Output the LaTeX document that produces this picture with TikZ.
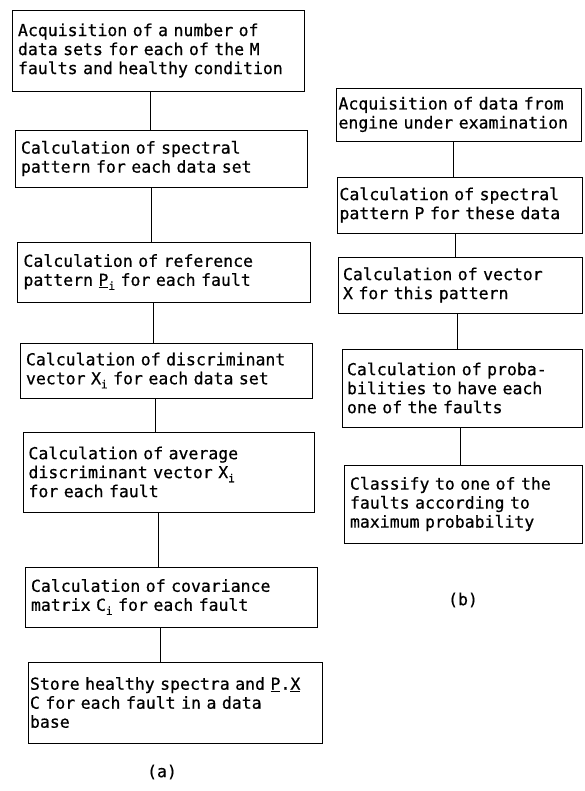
\documentclass[tikz,border=0pt]{standalone}
\usepackage{fontspec}
\setmainfont{DejaVu Sans Mono}[FakeBold=0.6]
\newcommand{\lowi}{\raisebox{-0.45ex}{\fontsize{11}{11}\selectfont i}}
\begin{document}
\begin{tikzpicture}[x=1pt,y=-1pt,
  stepbox/.style={draw,line width=0.9pt,rectangle,inner sep=0pt,
    font=\fontsize{16.5}{19}\selectfont,align=left},
  link/.style={line width=0.9pt},
  captext/.style={font=\fontsize{16.5}{19}\selectfont}]
\useasboundingbox (0,0) rectangle (584,791);
% left column
\node[stepbox,minimum width=292pt,minimum height=81pt,text width=280pt] (a1) at (158,50.5)
  {Acquisition of a number of\\data sets for each of the M\\faults and healthy condition};
\node[stepbox,minimum width=292pt,minimum height=57pt,text width=280pt] (a2) at (161,158.5)
  {Calculation of spectral\\pattern for each data set};
\node[stepbox,minimum width=293pt,minimum height=60pt,text width=280pt] (a3) at (163.5,272)
  {Calculation of reference\\pattern \underline{P}\lowi{} for each fault};
\node[stepbox,minimum width=292pt,minimum height=55pt,text width=280pt] (a4) at (166,370.5)
  {Calculation of discriminant\\vector X\lowi{} for each data set};
\node[stepbox,minimum width=291pt,minimum height=80pt,text width=280pt] (a5) at (168.5,472)
  {Calculation of average\\discriminant vector X\lowi\\for each fault};
\node[stepbox,minimum width=292pt,minimum height=60pt,text width=280pt] (a6) at (171,597)
  {Calculation of covariance\\matrix C\lowi{} for each fault};
\node[stepbox,minimum width=294pt,minimum height=81pt,text width=290pt] (a7) at (175,702.5)
  {Store healthy spectra and \underline{P}.\underline{X}\\C for each fault in a data\\base};
\node[captext] (la) at (162,772) {(a)};
\coordinate (l1) at (150,0);
\coordinate (l2) at (151,0);
\coordinate (l3) at (153,0);
\coordinate (l4) at (155,0);
\coordinate (l5) at (158,0);
\coordinate (l6) at (160,0);
\draw[link] (a1.south -| l1) -- (a2.north -| l1);
\draw[link] (a2.south -| l2) -- (a3.north -| l2);
\draw[link] (a3.south -| l3) -- (a4.north -| l3);
\draw[link] (a4.south -| l4) -- (a5.north -| l4);
\draw[link] (a5.south -| l5) -- (a6.north -| l5);
\draw[link] (a6.south -| l6) -- (a7.north -| l6);
% right column
\node[stepbox,minimum width=245pt,minimum height=53pt,text width=240pt] (b1) at (458.5,114.5)
  {Acquisition of data from\\engine under examination};
\node[stepbox,minimum width=245pt,minimum height=56pt,text width=240pt] (b2) at (459.5,205)
  {Calculation of spectral\\pattern P for these data};
\node[stepbox,minimum width=244pt,minimum height=56pt,text width=234pt] (b3) at (460,285)
  {Calculation of vector\\X for this pattern};
\node[stepbox,minimum width=240pt,minimum height=78pt,text width=230pt] (b4) at (462,388)
  {Calculation of proba-\\bilities to have each\\one of the faults};
\node[stepbox,minimum width=238pt,minimum height=78pt,text width=226pt] (b5) at (463,504)
  {Classify to one of the\\faults according to\\maximum probability};
\node[captext] (lb) at (463,600) {(b)};
\coordinate (r1) at (453,0);
\coordinate (r2) at (455,0);
\coordinate (r3) at (457,0);
\coordinate (r4) at (460,0);
\draw[link] (b1.south -| r1) -- (b2.north -| r1);
\draw[link] (b2.south -| r2) -- (b3.north -| r2);
\draw[link] (b3.south -| r3) -- (b4.north -| r3);
\draw[link] (b4.south -| r4) -- (b5.north -| r4);
\end{tikzpicture}
\end{document}
